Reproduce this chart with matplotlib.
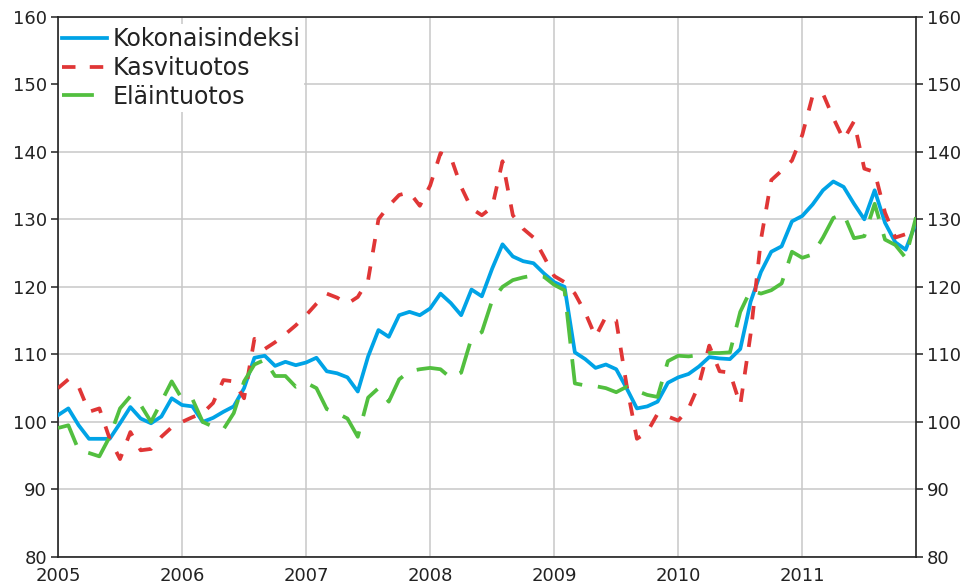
import matplotlib
matplotlib.use('Agg')
import matplotlib.pyplot as plt
import numpy as np

years = [2005, 2006, 2007, 2008, 2009, 2010, 2011]
y_ticks = [80, 90, 100, 110, 120, 130, 140, 150, 160]
labels = ['Kokonaisindeksi', 'Kasvituotos', 'Eläintuotos']

# monthly index values Jan 2005 .. Dec 2011
kokonais = [
    101, 102, 99.5, 97.5, 97.5, 97.5, 99.8, 102.2, 100.5, 99.8, 100.8, 103.5,
    102.5, 102.3, 100, 100.6, 101.5, 102.3, 105, 109.5, 109.8, 108.3, 108.9, 108.4,
    108.8, 109.5, 107.5, 107.2, 106.6, 104.5, 109.7, 113.6, 112.6, 115.8, 116.3, 115.8,
    116.8, 119, 117.6, 115.8, 119.6, 118.6, 122.7, 126.3, 124.5, 123.8, 123.5, 122,
    120.7, 120, 110.3, 109.3, 108, 108.5, 107.8, 105, 102, 102.3, 103, 105.8,
    106.6, 107.1, 108.2, 109.6, 109.4, 109.3, 110.8, 117.8, 122.2, 125.2, 126, 129.7,
    130.5, 132.2, 134.3, 135.6, 134.8, 132.3, 130, 134.3, 129.5, 126.6, 125.5, 129.5,
]
kasvi = [
    105, 106.3, 105.2, 101.5, 102, 97.5, 94.5, 98.5, 95.8, 96, 97.8, 99.2,
    100, 100.7, 101.3, 102.8, 106.2, 106, 103.5, 112.3, 110.8, 111.8, 113, 114.3,
    115.8, 117.5, 119, 118.4, 117.5, 118.5, 121, 130, 132, 133.6, 134, 132,
    135, 139.8, 139.2, 134.8, 131.6, 130.6, 131.8, 138.6, 130.6, 128.6, 127.3, 124.5,
    121.6, 120.7, 119, 116.2, 112.6, 115.6, 115, 105.5, 97.5, 98.5, 101.2, 100.8,
    100.2, 102, 105.5, 111.3, 107.5, 107.3, 102.5, 113, 127, 135.8, 137.2, 138.7,
    142.5, 148.3, 148.6, 145, 141.8, 144.5, 137.5, 137, 131, 127.3, 127.8, 128.5,
]
elain = [
    99.1, 99.5, 95.8, 95.4, 94.9, 97.8, 102, 103.8, 102.5, 100, 103, 106,
    103.4, 103.4, 100, 99.3, 98.9, 101.3, 106, 108.5, 109.2, 106.8, 106.8, 105.2,
    105.8, 105, 101.9, 101.3, 100.5, 97.8, 103.6, 105, 103, 106.3, 107.5, 107.8,
    108, 107.8, 106.5, 107.3, 112.4, 113.3, 118, 120, 121, 121.4, 121.7, 121.5,
    120.3, 119.5, 105.7, 105.4, 105.3, 105, 104.4, 105.2, 104.6, 104, 103.7, 109,
    109.8, 109.7, 109.9, 110.2, 110.2, 110.3, 116.3, 119.5, 119, 119.5, 120.5, 125.2,
    124.3, 124.8, 127.3, 130.2, 130.8, 127.2, 127.5, 132.3, 127, 126.2, 124.3, 130.3,
]

x = 2005 + np.arange(len(kokonais)) / 12.0

W, H = 968, 586
fig = plt.figure(figsize=(W / 100, H / 100), dpi=100)
L, R, T, B = 58, 916, 16.7, 557
ax = fig.add_axes([L / W, 1 - B / H, (R - L) / W, (B - T) / H])

blue = '#00A3E6'
red = '#E03636'
green = '#52BF3F'
lw = 2.7

ax.plot(x, kokonais, color=blue, lw=lw, label=labels[0], solid_joinstyle='round', zorder=3)
ax.plot(x, kasvi, color=red, lw=lw, label=labels[1], dashes=(3.6, 3.8), zorder=4)
ax.plot(x, elain, color=green, lw=lw, label=labels[2], dashes=(8.5, 4.2), zorder=5)

ax.set_xlim(2005, 2005 + 83 / 12.0)
ax.set_ylim(80, 160)
ax.set_xticks(years)
ax.set_xticklabels([str(y) for y in years])
ax.set_yticks(y_ticks)

ax.grid(True, color='#C8C8C8', lw=1.1)
ax.set_axisbelow(True)

for s in ax.spines.values():
    s.set_color('#222222')
    s.set_linewidth(1.2)

ax.tick_params(axis='y', which='both', left=True, right=True, labelleft=True,
               labelright=True, length=5, width=1.1, color='#222222',
               labelsize=13, labelcolor='#222222', pad=3)
ax.tick_params(axis='x', length=0, labelsize=13, labelcolor='#222222', pad=7)

leg = ax.legend(loc='upper left', bbox_to_anchor=(-0.002, 1 - 4.5 / 540), borderaxespad=0.1,
                fontsize=17, frameon=True, fancybox=False, framealpha=1,
                facecolor='white', edgecolor='none', handlelength=1.9,
                handletextpad=0.22, labelspacing=0.2, borderpad=0.15)
leg.set_zorder(10)
for t in leg.get_texts():
    t.set_color('#222222')

fig.savefig('out.png', dpi=100)
